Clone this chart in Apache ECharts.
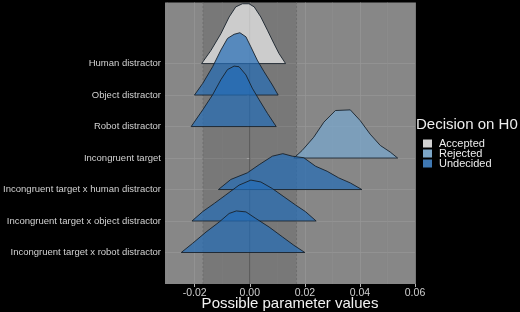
<!DOCTYPE html>
<html><head><meta charset="utf-8">
<script src="https://cdn.jsdelivr.net/npm/echarts@6/dist/echarts.min.js"></script>
<style>html,body{margin:0;padding:0;background:#000}#c{width:520px;height:312px}</style>
</head><body><div id="c"></div>
<script>
// Categories, bottom (position 1) to top (position 7)
const categories = [
  'Incongruent target x robot distractor',
  'Incongruent target x object distractor',
  'Incongruent target x human distractor',
  'Incongruent target',
  'Robot distractor',
  'Object distractor',
  'Human distractor'
];
const categoryDecision = ['Undecided','Undecided','Undecided','Rejected','Undecided','Undecided','Accepted'];
const legendNames = ['Accepted','Rejected','Undecided'];

// Ridge outlines: [parameter value, scaled density height]
const humanDistractor = [[-0.0175,0],[-0.0141,0.42],[-0.0105,0.95],[-0.0075,1.48],[-0.0051,1.80],[-0.0027,1.90],[-0.0003,1.90],[0.0016,1.80],[0.0040,1.48],[0.0064,1.06],[0.0088,0.63],[0.0106,0.32],[0.0130,0]];
const objectDistractor = [[-0.0201,0],[-0.0171,0.37],[-0.0135,0.90],[-0.0105,1.43],[-0.0081,1.80],[-0.0057,1.93],[-0.0036,1.98],[-0.0014,1.85],[0.0004,1.53],[0.0027,1.11],[0.0052,0.74],[0.0082,0.32],[0.0103,0]];
const robotDistractor = [[-0.0213,0],[-0.0171,0.53],[-0.0135,1.01],[-0.0105,1.49],[-0.0081,1.81],[-0.0057,1.92],[-0.0039,1.90],[-0.0014,1.64],[0.0009,1.22],[0.0034,0.85],[0.0064,0.42],[0.0096,0]];
const incongruentTarget = [[0.0160,0],[0.0190,0.24],[0.0232,0.66],[0.0269,1.14],[0.0311,1.51],[0.0365,1.53],[0.0401,1.19],[0.0437,0.76],[0.0474,0.40],[0.0510,0.19],[0.0537,0]];
const incongruentHuman = [[-0.0114,0],[-0.0069,0.32],[-0.0009,0.53],[0.0034,0.79],[0.0082,1.06],[0.0120,1.14],[0.0154,1.06],[0.0196,1.01],[0.0239,0.74],[0.0281,0.58],[0.0323,0.37],[0.0365,0.21],[0.0407,0]];
const incongruentObject = [[-0.0210,0],[-0.0171,0.30],[-0.0129,0.56],[-0.0087,0.83],[-0.0039,1.14],[0.0004,1.30],[0.0040,1.24],[0.0082,1.03],[0.0124,0.77],[0.0166,0.51],[0.0202,0.30],[0.0241,0]];
const incongruentRobot = [[-0.0249,0],[-0.0208,0.29],[-0.0159,0.65],[-0.0111,0.97],[-0.0075,1.24],[-0.0049,1.32],[-0.0014,1.29],[0.0022,1.08],[0.0070,0.81],[0.0118,0.50],[0.0160,0.23],[0.0200,0]];
const ridges = [incongruentRobot, incongruentObject, incongruentHuman, incongruentTarget, robotDistractor, objectDistractor, humanDistractor];

const xTicks = [-0.02, 0, 0.02, 0.04, 0.06];
const xMinor = [-0.03, -0.01, 0.01, 0.03, 0.05];
const rope = [-0.017, 0.017];
const yPositions = [1,2,3,4,5,6,7];

const fills = {
  Accepted: 'rgba(239,239,239,0.7)',
  Rejected: 'rgba(120,168,208,0.7)',
  Undecided: 'rgba(36,108,182,0.7)'
};
const keyColors = {Accepted:'#d2d2d2', Rejected:'#7ca6c8', Undecided:'#3f78b3'};

const series = [];
// background: ROPE band, minor grid lines, zero line
series.push({
  type:'custom', coordinateSystem:'cartesian2d', silent:true, animation:false, z:1,
  data:[[0,0]],
  renderItem(params, api){
    const children = [];
    const yb = api.coord([0,0])[1], yt = api.coord([0,8.94])[1];
    xMinor.forEach(v=>{
      const x = api.coord([v,0])[0];
      children.push({type:'line', shape:{x1:x,y1:yb,x2:x,y2:yt}, style:{stroke:'#8f8f8f', lineWidth:0.6}});
    });
    const xl = api.coord([rope[0],0])[0], xr = api.coord([rope[1],0])[0];
    children.push({type:'rect', shape:{x:xl,y:yt,width:xr-xl,height:yb-yt}, style:{fill:'rgba(0,0,0,0.11)'}});
    [xl,xr].forEach(x=>children.push({type:'line', shape:{x1:x,y1:yb,x2:x,y2:yt}, style:{stroke:'#6a6a6a', lineWidth:0.8, lineDash:[2,2]}}));
    const x0 = api.coord([0,0])[0];
    children.push({type:'line', shape:{x1:x0,y1:yb,x2:x0,y2:yt}, style:{stroke:'#4e4e4e', lineWidth:0.9}});
    return {type:'group', children};
  }
});
// ridges, top first so lower ridges overlap upper ones
for (let i = ridges.length - 1; i >= 0; i--) {
  const pts = ridges[i], pos = yPositions[i], dec = categoryDecision[i];
  series.push({
    type:'custom', name: dec, coordinateSystem:'cartesian2d', silent:true, animation:false, z:2,
    data: pts.map(p=>[p[0], pos + p[1]]),
    encode:{x:0, y:1},
    itemStyle:{color: keyColors[dec]},
    renderItem(params, api){
      if (params.dataIndex !== 0) return null;
      const poly = pts.map(p=>api.coord([p[0], pos + p[1]]));
      return {type:'polygon', shape:{points:poly}, style:{fill: fills[dec], stroke:'#17212b', lineWidth:0.9, lineJoin:'round'}};
    }
  });
}

const font = 'Liberation Sans, Arial, sans-serif';
const chart = echarts.init(document.getElementById('c'), null, {renderer:'canvas'});
chart.setOption({
  backgroundColor:'#000',
  animation:false,
  title:{text:'Decision on H0', left:416, top:117, padding:0,
    textStyle:{color:'#ececec', fontSize:15, fontWeight:'normal', fontFamily:font}},
  legend:{
    orient:'vertical', left:423, top:138, padding:0, icon:'rect',
    itemWidth:9, itemHeight:8, itemGap:-1, selectedMode:false,
    data: legendNames.map(n=>({name:n, itemStyle:{color:keyColors[n], borderWidth:0}})),
    textStyle:{color:'#ececec', fontSize:11, fontFamily:font, padding:[0,0,0,2]}
  },
  grid:{left:165, right:105, top:2.5, bottom:28, show:true, backgroundColor:'#878787', borderWidth:0,
    containLabel:false, outerBoundsMode:'none'},
  xAxis:{
    type:'value', min:-0.0308, max:0.06,
    name:'Possible parameter values', nameLocation:'middle', nameGap:12, nameMoveOverlap:false,
    nameTextStyle:{color:'#f2f2f2', fontSize:15, fontFamily:font},
    axisLine:{show:false},
    axisTick:{show:true, length:3, lineStyle:{color:'#b5b5b5'}, customValues:xTicks},
    axisLabel:{color:'#cfcfcf', fontSize:10.5, margin:4, fontFamily:font, customValues:xTicks,
      formatter:v=>v.toFixed(2)},
    splitLine:{show:true, lineStyle:{color:'#959595', width:0.8}}
  },
  yAxis:{
    type:'value', min:0, max:8.94,
    axisLine:{show:false},
    axisTick:{show:true, length:3, lineStyle:{color:'#b5b5b5'}, customValues:yPositions},
    axisLabel:{color:'#d2d2d2', fontSize:9.5, margin:4, fontFamily:font, customValues:yPositions,
      formatter:v=>categories[Math.round(v)-1] || ''},
    splitLine:{show:true, lineStyle:{color:'#959595', width:0.8}}
  },
  series
});
</script></body></html>
